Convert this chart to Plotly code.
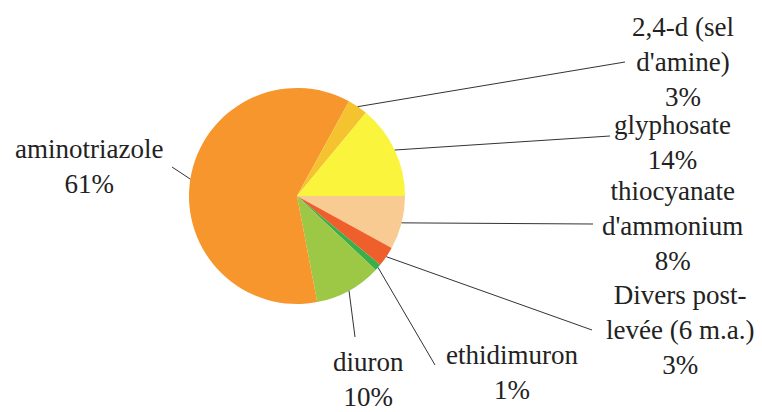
import math
import plotly.graph_objects as go

W, H = 762, 412

# ---- data (clockwise from 3 o'clock) ----
names = ["thiocyanate<br>d'ammonium", "Divers post-<br>levée (6 m.a.)", "ethidimuron",
         "diuron", "aminotriazole", "2,4-d (sel<br>d'amine)", "glyphosate"]
values = [8, 3, 1, 10, 61, 3, 14]
colors = ["#F8CB93", "#EE5F2B", "#3AAE4A", "#9CC846", "#F7962C", "#F5C330", "#FAF43C"]

# ---- layout (pixel positions of labels / leader-line ends) ----
cx, cy, r = 297, 196, 108
label_pos = [(672, 226), (680, 330), (512, 372), (368, 379), (89, 167), (683, 62), (672, 143)]
line_end = [(593, 224), (592, 330), (435, 365), (355, 337), (172, 167), (625, 62), (610, 136)]

total = sum(values)
FONT = "Liberation Serif, Times New Roman, serif"

fig = go.Figure(go.Pie(
    labels=[n.replace("<br>", " ") for n in names],
    values=values,
    marker=dict(colors=colors, line=dict(width=0)),
    sort=False,
    direction="clockwise",
    rotation=90,
    textinfo="none",
    hoverinfo="skip",
    showlegend=False,
    domain=dict(x=[(cx - r) / W, (cx + r) / W], y=[1 - (cy + r) / H, 1 - (cy - r) / H]),
))

shapes = []
annotations = []
cum = 0
for name, v, (lx, ly), (ex, ey) in zip(names, values, label_pos, line_end):
    mid = (cum + v / 2) / total * 360
    cum += v
    theta = math.radians(-mid)
    sx = cx + r * math.cos(theta)
    sy = cy - r * math.sin(theta)
    shapes.append(dict(type="line", xref="paper", yref="paper",
                       x0=sx / W, y0=1 - sy / H, x1=ex / W, y1=1 - ey / H,
                       line=dict(color="#333333", width=1)))
    pct = f"{round(v / total * 100)}%"
    annotations.append(dict(x=lx / W, y=1 - ly / H, xref="paper", yref="paper",
                            text=f"{name}<br>{pct}", showarrow=False,
                            xanchor="center", yanchor="middle", align="center",
                            font=dict(family=FONT, size=27, color="#222222")))

fig.update_layout(
    width=W, height=H,
    margin=dict(l=0, r=0, t=0, b=0),
    paper_bgcolor="white", plot_bgcolor="white",
    font=dict(family=FONT),
    shapes=shapes, annotations=annotations,
)

fig.write_html("out.html", config={"displayModeBar": False},
               post_script="document.body.style.margin='0';document.body.style.overflow='hidden';")
